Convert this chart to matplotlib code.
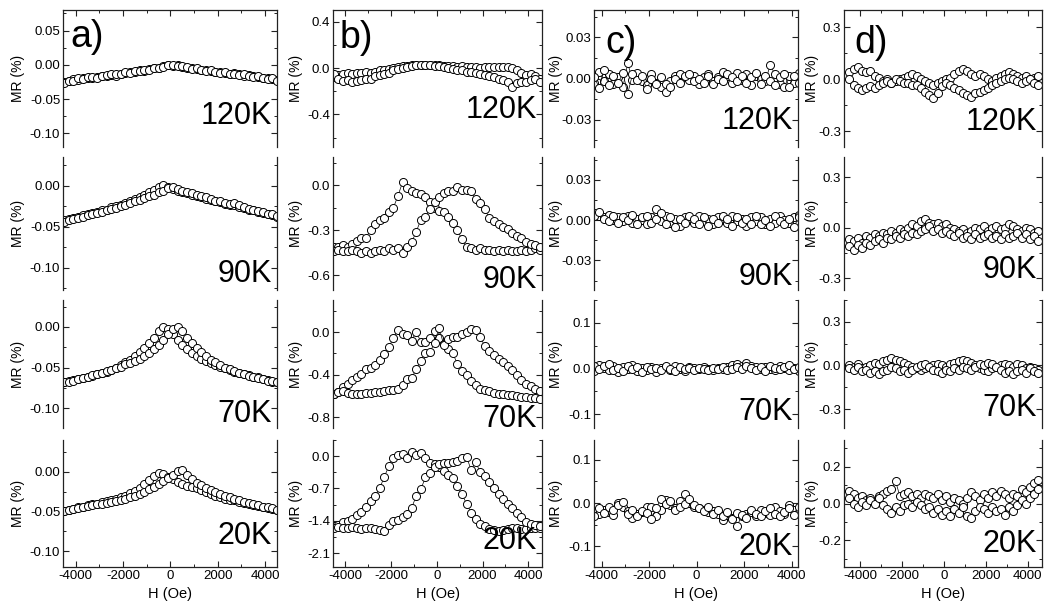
import numpy as np
import matplotlib
matplotlib.use('Agg')
import matplotlib.pyplot as plt
from matplotlib.ticker import FixedLocator, MultipleLocator, FormatStrFormatter

plt.rcParams['font.family'] = ['Liberation Sans', 'DejaVu Sans']
plt.rcParams['axes.unicode_minus'] = False

#Field sweep points (Oe)
H = [-4500, -4300, -4100, -3900, -3700, -3500, -3300, -3100, -2900, -2700,
     -2500, -2300, -2100, -1900, -1700, -1500, -1300, -1100, -900, -700,
     -500, -300, -100, 100, 300, 500, 700, 900, 1100, 1300,
     1500, 1700, 1900, 2100, 2300, 2500, 2700, 2900, 3100, 3300,
     3500, 3700, 3900, 4100, 4300, 4500]

temps = ['120K', '90K', '70K', '20K']
letters = ['a)', 'b)', 'c)', 'd)']

#Sample a) MR (%)
a120_up = [-0.025, -0.023, -0.021, -0.022, -0.020, -0.019, -0.020, -0.018, -0.016, -0.017,
           -0.015, -0.016, -0.013, -0.012, -0.011, -0.010, -0.008, -0.009, -0.006, -0.005,
           -0.004, -0.002, -0.001, -0.002, -0.001, -0.003, -0.004, -0.005, -0.006, -0.008,
           -0.007, -0.009, -0.010, -0.011, -0.012, -0.013, -0.012, -0.014, -0.016, -0.015,
           -0.017, -0.018, -0.020, -0.019, -0.021, -0.022]
a120_dn = [-0.027, -0.024, -0.023, -0.020, -0.021, -0.018, -0.018, -0.019, -0.017, -0.015,
           -0.014, -0.014, -0.014, -0.011, -0.012, -0.009, -0.009, -0.007, -0.007, -0.004,
           -0.005, -0.003, 0.000, 0.000, -0.002, -0.002, -0.003, -0.006, -0.005, -0.007,
           -0.009, -0.008, -0.010, -0.012, -0.011, -0.014, -0.014, -0.015, -0.014, -0.017,
           -0.018, -0.017, -0.019, -0.021, -0.020, -0.023]
a90_dn = [-0.042, -0.041, -0.039, -0.038, -0.036, -0.035, -0.033, -0.032, -0.030, -0.029,
          -0.026, -0.025, -0.023, -0.021, -0.019, -0.016, -0.014, -0.011, -0.008, -0.005,
          -0.002, 0.001, -0.001, -0.004, -0.006, -0.008, -0.009, -0.011, -0.013, -0.014,
          -0.016, -0.017, -0.019, -0.020, -0.022, -0.023, -0.024, -0.026, -0.027, -0.029,
          -0.030, -0.032, -0.033, -0.035, -0.036, -0.038]
a90_up = [-0.044, -0.042, -0.041, -0.039, -0.038, -0.036, -0.035, -0.033, -0.032, -0.030,
          -0.028, -0.027, -0.025, -0.023, -0.021, -0.019, -0.017, -0.015, -0.013, -0.011,
          -0.008, -0.006, -0.003, -0.002, -0.004, -0.006, -0.008, -0.009, -0.011, -0.013,
          -0.014, -0.016, -0.018, -0.019, -0.021, -0.022, -0.021, -0.024, -0.026, -0.028,
          -0.029, -0.031, -0.032, -0.034, -0.035, -0.037]
a70_dn = [-0.067, -0.066, -0.065, -0.064, -0.063, -0.062, -0.060, -0.058, -0.057, -0.055,
          -0.053, -0.050, -0.047, -0.043, -0.040, -0.036, -0.031, -0.026, -0.020, -0.013,
          -0.005, 0.000, -0.003, -0.009, -0.016, -0.022, -0.027, -0.032, -0.036, -0.039,
          -0.042, -0.044, -0.047, -0.049, -0.051, -0.053, -0.055, -0.056, -0.058, -0.059,
          -0.061, -0.062, -0.064, -0.065, -0.067, -0.068]
a70_up = [-0.068, -0.067, -0.066, -0.064, -0.063, -0.061, -0.059, -0.058, -0.056, -0.054,
          -0.053, -0.051, -0.049, -0.046, -0.044, -0.042, -0.039, -0.036, -0.032, -0.027,
          -0.022, -0.016, -0.009, -0.003, 0.000, -0.005, -0.013, -0.020, -0.026, -0.031,
          -0.036, -0.040, -0.043, -0.047, -0.050, -0.052, -0.054, -0.056, -0.058, -0.060,
          -0.061, -0.063, -0.064, -0.066, -0.066, -0.067]
a20_dn = [-0.049, -0.048, -0.047, -0.045, -0.044, -0.042, -0.041, -0.040, -0.038, -0.037,
          -0.035, -0.034, -0.032, -0.030, -0.027, -0.024, -0.020, -0.015, -0.010, -0.005,
          -0.002, -0.003, -0.006, -0.009, -0.013, -0.016, -0.018, -0.019, -0.021, -0.023,
          -0.026, -0.028, -0.031, -0.032, -0.034, -0.035, -0.036, -0.038, -0.039, -0.041,
          -0.042, -0.043, -0.045, -0.046, -0.047, -0.048]
a20_up = [-0.050, -0.048, -0.047, -0.046, -0.045, -0.043, -0.042, -0.041, -0.040, -0.039,
          -0.038, -0.037, -0.036, -0.034, -0.032, -0.030, -0.028, -0.025, -0.022, -0.019,
          -0.016, -0.012, -0.008, -0.004, 0.001, 0.002, -0.004, -0.009, -0.014, -0.017,
          -0.020, -0.023, -0.026, -0.028, -0.030, -0.032, -0.034, -0.036, -0.038, -0.039,
          -0.041, -0.042, -0.044, -0.045, -0.046, -0.048]

#Sample b) MR (%)
b120_a = [-0.08, -0.06, -0.05, -0.04, -0.05, -0.04, -0.04, -0.03, -0.04, -0.03,
          -0.02, -0.02, -0.01, 0.00, 0.01, 0.02, 0.02, 0.03, 0.03, 0.03,
          0.03, 0.03, 0.03, 0.03, 0.02, 0.02, 0.02, 0.01, 0.02, 0.01,
          0.01, 0.01, 0.00, 0.01, 0.01, 0.01, 0.01, 0.01, 0.01, 0.00,
          -0.02, -0.04, -0.06, -0.05, -0.07, -0.09]
b120_b = [-0.05, -0.09, -0.11, -0.10, -0.12, -0.11, -0.10, -0.09, -0.09, -0.07,
          -0.06, -0.05, -0.04, -0.02, -0.01, 0.00, 0.01, 0.02, 0.03, 0.03,
          0.03, 0.03, 0.02, 0.02, 0.01, 0.00, -0.01, -0.02, -0.02, -0.03,
          -0.03, -0.04, -0.05, -0.06, -0.07, -0.08, -0.09, -0.10, -0.12, -0.16,
          -0.13, -0.12, -0.12, -0.10, -0.09, -0.12]
b90_l = [-0.41, -0.41, -0.40, -0.41, -0.39, -0.37, -0.35, -0.35, -0.30, -0.26,
         -0.23, -0.22, -0.18, -0.15, -0.07, 0.02, -0.02, -0.04, -0.05, -0.06,
         -0.08, -0.11, -0.15, -0.17, -0.18, -0.21, -0.25, -0.30, -0.36, -0.41,
         -0.42, -0.43, -0.42, -0.43, -0.43, -0.44, -0.43, -0.44, -0.43, -0.44,
         -0.44, -0.43, -0.44, -0.43, -0.42, -0.43]
b90_r = [-0.44, -0.43, -0.44, -0.44, -0.43, -0.44, -0.45, -0.44, -0.45, -0.44,
         -0.43, -0.44, -0.42, -0.43, -0.42, -0.45, -0.41, -0.38, -0.31, -0.23,
         -0.21, -0.16, -0.11, -0.08, -0.05, -0.04, -0.04, -0.01, -0.03, -0.03,
         -0.04, -0.09, -0.12, -0.16, -0.22, -0.24, -0.26, -0.28, -0.29, -0.32,
         -0.34, -0.35, -0.38, -0.39, -0.40, -0.41]
b70_l = [-0.58, -0.56, -0.52, -0.49, -0.45, -0.42, -0.39, -0.35, -0.34, -0.31,
         -0.26, -0.21, -0.14, -0.06, 0.02, -0.02, -0.03, -0.08, 0.00, -0.09,
         -0.09, -0.06, 0.01, -0.06, -0.11, -0.16, -0.20, -0.30, -0.37, -0.40,
         -0.46, -0.50, -0.53, -0.54, -0.55, -0.57, -0.58, -0.58, -0.59, -0.59,
         -0.60, -0.61, -0.61, -0.62, -0.62, -0.63]
b70_r = [-0.58, -0.56, -0.55, -0.57, -0.58, -0.58, -0.58, -0.57, -0.57, -0.56,
         -0.56, -0.55, -0.54, -0.54, -0.53, -0.50, -0.44, -0.43, -0.35, -0.27,
         -0.20, -0.19, -0.10, 0.04, -0.12, -0.07, -0.05, -0.05, -0.02, 0.00,
         0.03, 0.02, -0.05, -0.13, -0.18, -0.22, -0.25, -0.28, -0.32, -0.36,
         -0.40, -0.45, -0.49, -0.51, -0.53, -0.55]
b20_l = [-1.52, -1.49, -1.43, -1.40, -1.37, -1.27, -1.20, -1.10, -0.97, -0.86,
         -0.70, -0.45, -0.22, -0.05, 0.02, 0.04, -0.03, 0.08, 0.02, 0.06,
         -0.05, -0.15, -0.17, -0.24, -0.33, -0.40, -0.48, -0.65, -0.82, -1.03,
         -1.22, -1.37, -1.46, -1.52, -1.57, -1.60, -1.62, -1.59, -1.57, -1.55,
         -1.56, -1.58, -1.57, -1.56, -1.55, -1.56]
b20_r = [-1.55, -1.54, -1.56, -1.55, -1.54, -1.56, -1.58, -1.56, -1.55, -1.58,
         -1.60, -1.62, -1.50, -1.41, -1.38, -1.31, -1.26, -1.12, -0.86, -0.72,
         -0.46, -0.36, -0.24, -0.18, -0.15, -0.15, -0.12, -0.10, -0.05, -0.01,
         -0.30, -0.13, -0.35, -0.43, -0.57, -0.70, -0.82, -0.92, -1.03, -1.12,
         -1.22, -1.32, -1.42, -1.47, -1.50, -1.52]

#Sample c) MR (%)
c120_a = [0.002, -0.003, 0.005, -0.002, 0.003, -0.004, 0.001, -0.006, 0.011, -0.001,
          0.004, -0.002, -0.005, 0.003, -0.003, -0.006, -0.010, -0.002, 0.002, 0.003,
          0.001, -0.001, 0.002, -0.004, 0.001, 0.003, -0.002, 0.001, 0.005, 0.002,
          -0.003, 0.004, -0.001, 0.003, -0.005, 0.002, 0.000, -0.002, 0.010, 0.003,
          -0.004, -0.006, 0.002, -0.003, 0.004, 0.001]
c120_b = [-0.004, 0.001, -0.007, 0.006, -0.005, 0.002, -0.003, 0.004, -0.011, 0.003,
          -0.001, 0.002, -0.008, 0.000, -0.004, 0.001, -0.004, -0.006, 0.000, -0.003,
          0.002, 0.003, -0.002, 0.000, -0.003, 0.002, -0.004, 0.000, -0.002, 0.003,
          0.001, -0.002, 0.002, -0.003, 0.001, 0.004, -0.004, 0.002, -0.002, -0.005,
          0.001, 0.003, -0.006, 0.002, -0.003, 0.004]
c90_a = [0.004, 0.005, 0.003, 0.002, 0.004, 0.000, 0.002, -0.001, 0.003, -0.002,
         0.001, 0.000, -0.003, 0.002, 0.008, -0.001, 0.003, -0.002, 0.001, -0.004,
         0.002, 0.000, -0.002, 0.003, -0.001, 0.001, -0.003, 0.002, 0.000, -0.002,
         0.003, -0.001, 0.001, -0.004, 0.002, -0.001, 0.002, -0.003, 0.001, -0.002,
         0.003, 0.000, -0.002, 0.002, 0.004, 0.003]
c90_b = [0.002, 0.003, 0.006, 0.001, -0.001, 0.003, -0.002, 0.002, 0.000, 0.004,
         -0.003, 0.002, 0.003, -0.002, 0.001, 0.005, -0.003, 0.002, -0.005, 0.001,
         -0.002, 0.003, 0.001, -0.003, 0.002, -0.004, 0.001, -0.002, 0.003, 0.001,
         -0.004, 0.002, -0.002, 0.001, -0.003, 0.003, -0.003, 0.000, -0.004, 0.003,
         -0.001, -0.003, 0.001, -0.005, 0.002, 0.005]
c70_a = [0.004, -0.006, 0.008, 0.002, -0.004, 0.006, -0.008, 0.003, 0.000, 0.007,
         -0.005, 0.002, -0.003, 0.004, -0.007, 0.001, 0.003, -0.004, 0.006, 0.000,
         -0.005, 0.003, 0.001, -0.002, 0.004, 0.000, -0.003, 0.002, -0.001, 0.004,
         0.007, 0.010, 0.005, 0.012, 0.006, 0.003, -0.002, 0.004, 0.000, -0.004,
         0.005, 0.002, -0.003, 0.001, -0.005, -0.008]
c70_b = [-0.003, 0.006, -0.002, 0.005, 0.010, -0.004, 0.002, -0.006, 0.005, -0.002,
         0.003, -0.007, 0.004, -0.001, 0.002, -0.004, 0.005, 0.000, -0.006, 0.004,
         -0.002, 0.001, -0.004, 0.002, -0.001, -0.003, 0.001, -0.002, 0.003, -0.004,
         0.000, 0.003, -0.002, 0.006, 0.001, -0.003, 0.004, -0.005, 0.006, 0.002,
         -0.002, 0.004, 0.008, 0.000, 0.003, -0.004]
c20_a = [-0.042, -0.020, -0.025, -0.015, -0.020, -0.028, 0.000, -0.010, -0.018, -0.034,
         -0.025, -0.020, -0.010, -0.008, -0.030, -0.015, 0.008, -0.005, -0.012, 0.005,
         0.021, 0.000, -0.008, -0.012, -0.015, -0.020, -0.018, -0.025, -0.040, -0.028,
         -0.035, -0.053, -0.030, -0.025, -0.020, -0.030, -0.015, -0.022, -0.028, -0.010,
         -0.018, -0.025, -0.005, -0.015, -0.020, -0.025]
c20_b = [-0.019, -0.030, -0.012, -0.022, -0.008, -0.015, -0.005, 0.002, -0.025, -0.015,
         -0.030, -0.018, -0.022, -0.038, -0.012, 0.010, -0.002, 0.005, -0.015, -0.008,
         -0.002, 0.010, -0.005, -0.012, -0.018, -0.010, -0.025, -0.015, -0.030, -0.020,
         -0.038, -0.022, -0.028, -0.035, -0.015, -0.025, -0.030, -0.018, -0.012, -0.025,
         -0.030, -0.020, -0.012, -0.028, -0.010, -0.030]

#Sample d) MR (%)
d120_a = [0.04, 0.06, 0.07, 0.05, 0.04, 0.05, 0.02, 0.01, -0.01, 0.00,
          -0.02, -0.01, 0.00, 0.01, 0.02, 0.03, 0.02, 0.00, -0.01, -0.02,
          -0.03, -0.02, -0.01, 0.00, 0.01, 0.03, 0.05, 0.06, 0.05, 0.03,
          0.02, 0.03, 0.02, 0.00, -0.01, 0.01, 0.02, 0.03, 0.04, 0.03,
          0.02, 0.01, 0.02, 0.00, 0.01, 0.02]
d120_b = [0.00, -0.03, -0.05, -0.06, -0.05, -0.04, -0.05, -0.03, -0.02, -0.01,
          -0.02, 0.00, -0.01, -0.02, -0.02, -0.03, -0.03, -0.05, -0.07, -0.09,
          -0.11, -0.08, -0.04, -0.02, -0.03, -0.05, -0.06, -0.08, -0.09, -0.10,
          -0.08, -0.07, -0.06, -0.05, -0.03, -0.02, -0.01, 0.00, 0.01, 0.00,
          -0.01, -0.02, -0.01, 0.00, -0.02, -0.03]
d90_a = [-0.07, -0.08, -0.06, -0.09, -0.05, -0.06, -0.04, -0.05, -0.03, -0.04,
         -0.02, -0.03, -0.01, -0.02, 0.00, 0.02, 0.01, 0.04, 0.05, 0.03,
         0.02, 0.03, 0.01, 0.02, 0.00, -0.01, -0.02, -0.01, -0.03, -0.02,
         0.00, -0.01, 0.01, -0.02, 0.00, 0.01, -0.01, 0.00, 0.02, 0.01,
         -0.01, -0.02, 0.00, -0.01, -0.03, -0.02]
d90_b = [-0.11, -0.13, -0.10, -0.12, -0.09, -0.10, -0.08, -0.07, -0.09, -0.06,
         -0.07, -0.05, -0.06, -0.04, -0.05, -0.03, -0.04, -0.02, -0.01, 0.01,
         -0.02, -0.01, -0.03, -0.02, -0.04, -0.05, -0.03, -0.06, -0.05, -0.07,
         -0.04, -0.06, -0.05, -0.04, -0.06, -0.05, -0.07, -0.04, -0.06, -0.05,
         -0.03, -0.06, -0.04, -0.07, -0.05, -0.08]
d70_a = [0.00, -0.01, 0.01, -0.02, -0.01, 0.00, 0.02, 0.01, 0.03, 0.04,
         0.05, 0.04, 0.03, 0.02, 0.00, -0.01, -0.02, -0.03, -0.02, -0.01,
         0.00, 0.01, 0.00, -0.01, 0.01, 0.02, 0.03, 0.04, 0.03, 0.02,
         0.00, -0.02, -0.03, -0.04, -0.02, -0.01, 0.00, 0.01, 0.00, -0.01,
         0.01, 0.00, -0.02, -0.01, -0.02, -0.03]
d70_b = [-0.02, -0.03, -0.01, -0.04, -0.03, -0.05, -0.04, -0.06, -0.04, -0.03,
         -0.01, -0.02, -0.04, -0.03, -0.05, -0.03, -0.01, 0.00, 0.01, -0.01,
         -0.03, -0.04, -0.05, -0.03, -0.04, -0.02, -0.03, -0.01, -0.02, -0.03,
         -0.01, 0.01, 0.00, 0.02, 0.01, -0.01, -0.03, -0.05, -0.04, -0.06,
         -0.04, -0.03, -0.05, -0.02, -0.04, -0.05]
d20_a = [0.07, 0.05, 0.03, 0.04, 0.02, 0.03, 0.01, 0.04, 0.05, 0.07,
         0.08, 0.12, 0.04, 0.05, 0.06, 0.04, 0.05, 0.03, 0.05, 0.04,
         0.03, 0.05, 0.02, 0.04, 0.01, 0.03, 0.02, 0.00, 0.03, 0.06,
         0.04, 0.02, 0.05, 0.03, 0.06, 0.04, 0.07, 0.05, 0.03, 0.05,
         0.04, 0.08, 0.06, 0.09, 0.11, 0.13]
d20_b = [0.03, 0.00, -0.02, 0.01, -0.01, 0.02, 0.00, 0.03, -0.01, -0.03,
         -0.05, -0.02, -0.04, -0.01, 0.00, -0.02, 0.01, -0.01, -0.03, -0.02,
         -0.05, -0.03, -0.06, -0.04, -0.07, -0.03, -0.05, -0.02, -0.07, -0.08,
         -0.04, -0.02, -0.03, -0.05, -0.02, -0.04, -0.03, -0.06, -0.02, -0.04,
         -0.01, 0.02, 0.00, 0.03, 0.05, 0.08]

data = [[(a120_up, a120_dn), (a90_dn, a90_up), (a70_dn, a70_up), (a20_dn, a20_up)],
        [(b120_a, b120_b), (b90_l, b90_r), (b70_l, b70_r), (b20_l, b20_r)],
        [(c120_a, c120_b), (c90_a, c90_b), (c70_a, c70_b), (c20_a, c20_b)],
        [(d120_a, d120_b), (d90_a, d90_b), (d70_a, d70_b), (d20_a, d20_b)]]

#axis settings per column / row
yticks = [[[0.05, 0.0, -0.05, -0.10], [0.0, -0.05, -0.10], [0.0, -0.05, -0.10], [0.0, -0.05, -0.10]],
          [[0.4, 0.0, -0.4], [0.0, -0.3, -0.6], [0.0, -0.4, -0.8], [0.0, -0.7, -1.4, -2.1]],
          [[0.03, 0.0, -0.03], [0.03, 0.0, -0.03], [0.1, 0.0, -0.1], [0.1, 0.0, -0.1]],
          [[0.3, 0.0, -0.3], [0.3, 0.0, -0.3], [0.3, 0.0, -0.3], [0.2, 0.0, -0.2]]]
ylims = [[(-0.12, 0.08), (-0.127, 0.035), (-0.124, 0.033), (-0.12, 0.04)],
         [(-0.68, 0.5), (-0.70, 0.19), (-0.9, 0.3), (-2.4, 0.35)],
         [(-0.05, 0.05), (-0.052, 0.047), (-0.13, 0.15), (-0.148, 0.146)],
         [(-0.39, 0.40), (-0.37, 0.42), (-0.43, 0.45), (-0.345, 0.345)]]
yfmt = [['%.2f'] * 4, ['%.1f'] * 4, ['%.2f', '%.2f', '%.1f', '%.1f'], ['%.1f'] * 4]
xlims = [(-4540, 4500), (-4540, 4600), (-4320, 4270), (-4760, 4670)]

#layout in pixels
W, HT = 1046, 613
cols = [(63, 277), (333, 542), (594, 798), (844, 1042)]
rows = [(10, 147), (157, 290), (300, 428), (440, 567)]
ylab_dx = [38, 30, 31, 25]
temp_off = [[23, 8, 6, 23], [29, 2, 1, 18], [18, 5, 8, 12], [17, 12, 12, 15]]
let_dx = [7, 7, 11, 10]
let_top = [19, 20, 25, 25]

fig = plt.figure(figsize=(W / 100, HT / 100), dpi=100)

for c in range(4):
    x0, x1 = cols[c]
    for r in range(4):
        y0, y1 = rows[r]
        ax = fig.add_axes([x0 / W, 1 - y1 / HT, (x1 - x0) / W, (y1 - y0) / HT])
        for br in data[c][r]:
            ax.plot(H, br, 'o-', color='k', lw=0.5, ms=5.8, mfc='white', mec='k', mew=0.7)
        ax.set_xlim(*xlims[c])
        ax.set_ylim(*ylims[c][r])

        for s in ax.spines.values():
            s.set_linewidth(0.9)
            s.set_color('#222222')
        ax.spines['top'].set_visible(r == 0)
        ax.spines['bottom'].set_visible(r == 3)

        ax.xaxis.set_major_locator(FixedLocator([-4000, -2000, 0, 2000, 4000]))
        ax.xaxis.set_minor_locator(MultipleLocator(1000))
        yt = yticks[c][r]
        ax.yaxis.set_major_locator(FixedLocator(yt))
        ax.yaxis.set_minor_locator(MultipleLocator(abs(yt[0] - yt[1]) / 2))
        ax.yaxis.set_major_formatter(FormatStrFormatter(yfmt[c][r]))

        ax.tick_params(which='both', direction='in', left=True, right=True,
                       top=(r == 0), bottom=(r == 3), labelbottom=(r == 3),
                       labelsize=9.5, pad=2, color='#222222')
        ax.tick_params(which='major', length=4, width=0.8)
        ax.tick_params(which='minor', length=2.2, width=0.7)

        ax.set_ylabel('MR (%)', fontsize=10)
        ax.yaxis.set_label_coords(-ylab_dx[c] / (x1 - x0), 0.5)
        if r == 3:
            ax.set_xlabel('H (Oe)', fontsize=10.5, labelpad=4)

        fig.text((x1 - 5) / W, 1 - (y1 - temp_off[c][r]) / HT, temps[r],
                 ha='right', va='baseline', fontsize=22)

    fig.text((x0 + let_dx[c]) / W, 1 - let_top[c] / HT, letters[c],
             ha='left', va='top', fontsize=27)

fig.savefig('out.png', dpi=100)
